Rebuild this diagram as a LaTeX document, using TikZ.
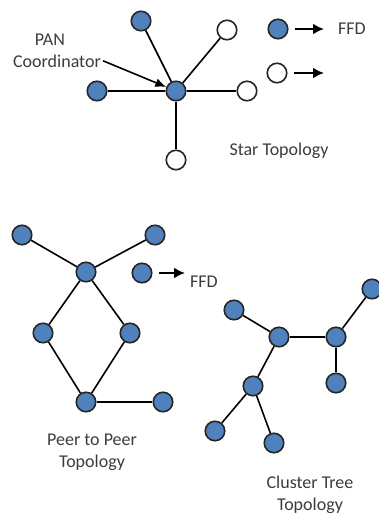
\documentclass[tikz,border=0pt]{standalone}
\usepackage{fontspec}
\setmainfont{Carlito}
\usetikzlibrary{positioning,arrows.meta}
\definecolor{nodeblue}{RGB}{79,129,189}
\definecolor{txtgray}{RGB}{60,60,60}
\tikzset{
    ffd/.style = {
        draw=black!85,
        shape=circle,
        fill=nodeblue,
        minimum size=19.5pt,
        inner sep=0pt,
        line width=1.6pt
    },
    rfd/.style = {
        ffd,
        fill=white
    },
    caption/.style = {
        text=txtgray,
        font=\fontsize{18}{22}\selectfont,
        align=center,
        inner sep=2pt
    },
    link/.style = {
        line width=1.6pt
    },
    legend/.style = {
        line width=2.4pt,
        shorten <=6pt
    },
    >={Latex[length=11pt,width=11pt]},
}

\begin{document}
\begin{tikzpicture}[x=1pt,y=-1pt]
            \useasboundingbox (0,0) rectangle (378,517);

            % star topology
            \node[ffd] (pan) at (176,91) {};
            \node[ffd] (stl) at (141,21) {};
            \node[rfd] (str) at (227,30) {};
            \node[ffd] (sl) at (97,91) {};
            \node[rfd] (sr) at (247,91) {};
            \node[rfd] (sb) at (176,160) {};
            \node[caption, anchor=base] (panlbl) at (50,45) {PAN};
            \node[caption, anchor=base] (coordlbl) at (57,67) {Coordinator};
            \node[caption, anchor=base] (starlbl) at (279,155) {Star Topology};

            \path[draw, link] (pan) -- (stl);
            \path[draw, link] (pan) -- (str);
            \path[draw, link] (pan) -- (sl);
            \path[draw, link] (pan) -- (sr);
            \path[draw, link] (pan) -- (sb);
            \path[draw, link, ->, >={Latex[length=11pt,width=9pt]}]
            (coordlbl.east) -- (pan);

            % legend
            \node[ffd] (legffd) at (278,29) {};
            \node[caption, anchor=base] (ffdlbl) at (352,34) {FFD};
            \node[rfd] (legrfd) at (277,73) {};
            \coordinate (ffdend) at (324,29);
            \coordinate (rfdend) at (324,73);
            \path[draw, legend, ->] (legffd) -- (ffdend);
            \path[draw, legend, ->] (legrfd) -- (rfdend);

            % peer to peer topology
            \node[ffd] (ptl) at (22,235) {};
            \node[ffd] (ptr) at (155,235) {};
            \node[ffd] (pc) at (86,272) {};
            \node[ffd] (pl) at (43,333) {};
            \node[ffd] (pr) at (130,333) {};
            \node[ffd] (pb) at (86,402) {};
            \node[ffd] (pbr) at (163,402) {};
            \node[caption, anchor=base] (p2plbl) at (92,467) {Peer to Peer\\Topology};

            \path[draw, link] (ptl) -- (pc);
            \path[draw, link] (ptr) -- (pc);
            \path[draw, link] (pc) -- (pl);
            \path[draw, link] (pc) -- (pr);
            \path[draw, link] (pl) -- (pb);
            \path[draw, link] (pr) -- (pb);
            \path[draw, link] (pb) -- (pbr);

            \node[ffd] (legffd2) at (142,273) {};
            \node[caption, anchor=base] (ffdlbl2) at (204,287) {FFD};
            \coordinate (ffdend2) at (185,273);
            \path[draw, legend, ->] (legffd2) -- (ffdend2);

            % cluster tree topology
            \node[ffd] (ca) at (234,310) {};
            \node[ffd] (chub) at (279,337) {};
            \node[ffd] (cc) at (336,337) {};
            \node[ffd] (ctr) at (372,289) {};
            \node[ffd] (cd) at (336,383) {};
            \node[ffd] (ce) at (253,386) {};
            \node[ffd] (cf) at (215,431) {};
            \node[ffd] (cg) at (274,443) {};
            \node[caption, anchor=base] (treelbl) at (310,510) {Cluster Tree\\Topology};

            \path[draw, link] (ca) -- (chub);
            \path[draw, link] (chub) -- (cc);
            \path[draw, link] (cc) -- (ctr);
            \path[draw, link] (cc) -- (cd);
            \path[draw, link] (chub) -- (ce);
            \path[draw, link] (ce) -- (cf);
            \path[draw, link] (ce) -- (cg);
        \end{tikzpicture}
\end{document}
